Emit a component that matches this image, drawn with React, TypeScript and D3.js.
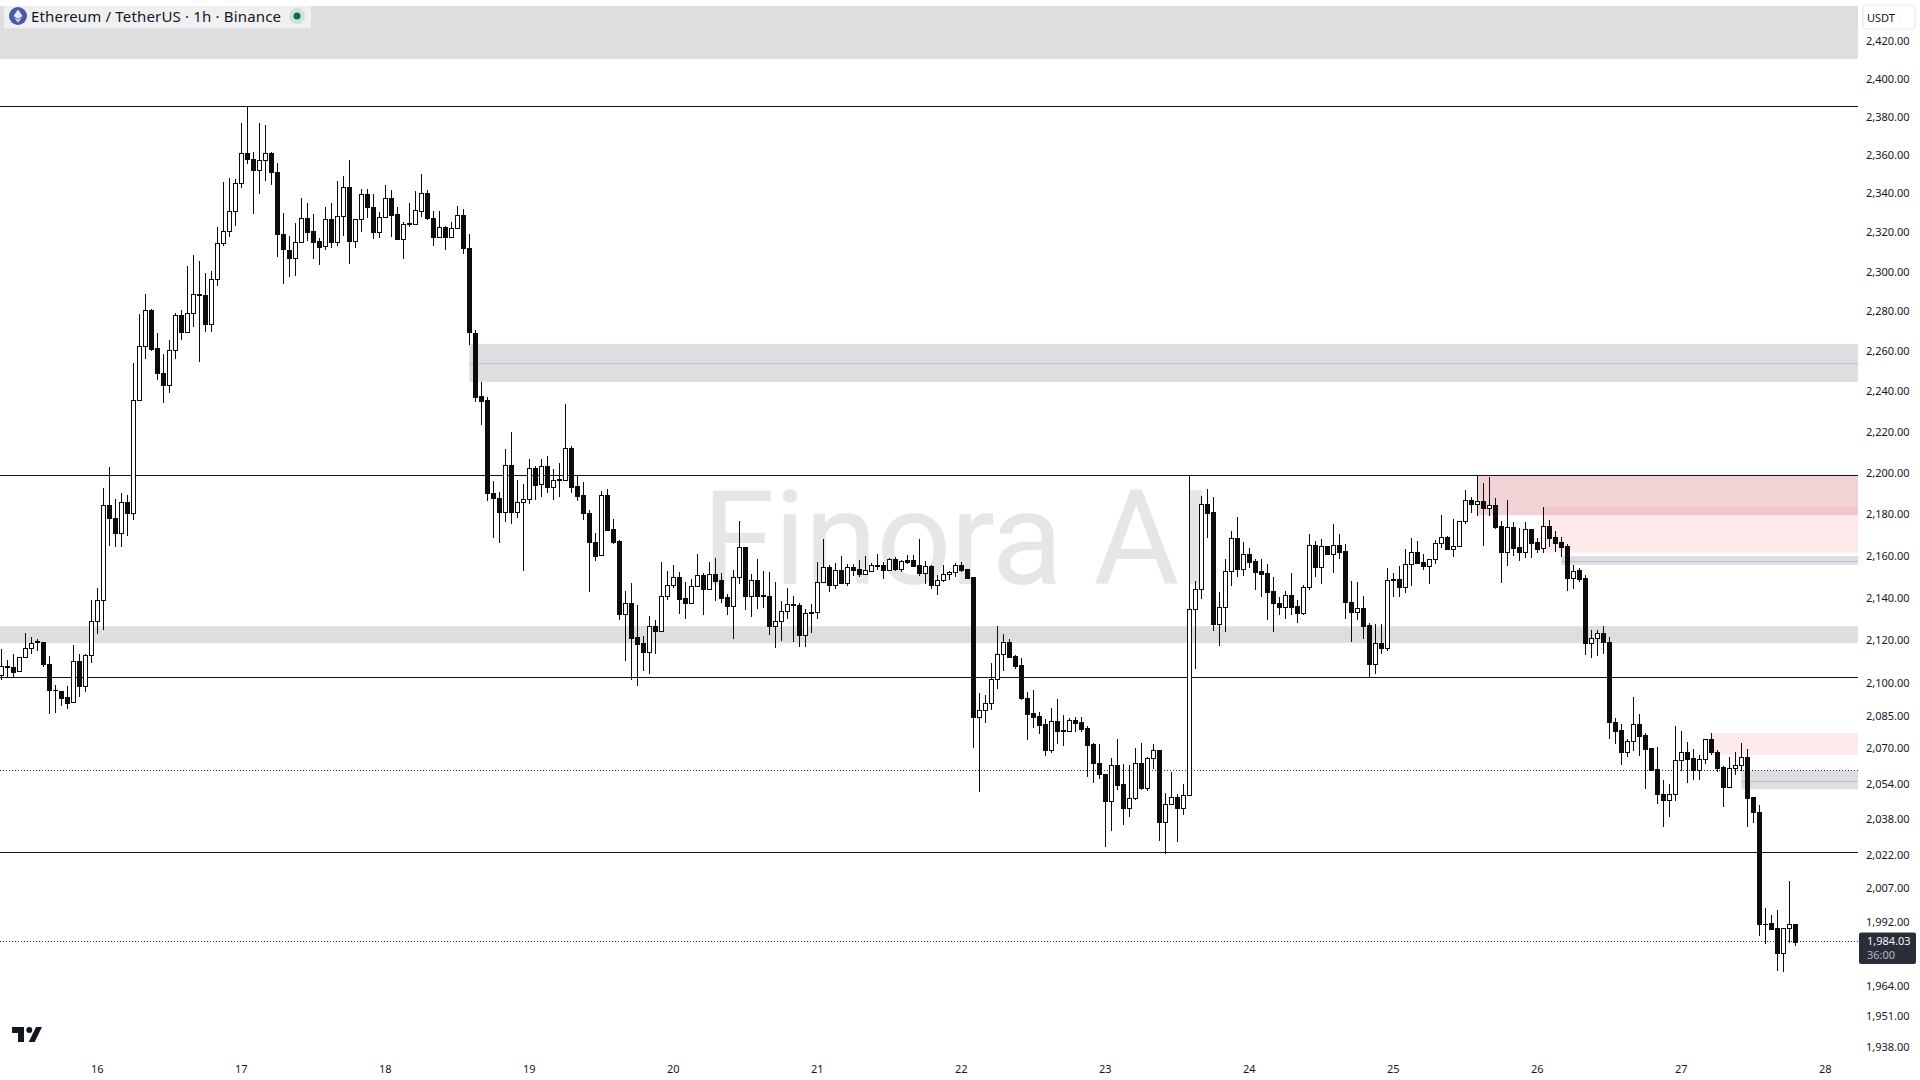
import React from "react";
import * as d3 from "d3";

const opens = [2103.6,2107.2,2107,2105.1,2111.9,2116,2119.2,2118.9,2108.7,2096.6,
2096.2,2093,2090.8,2110,2098.5,2112.6,2128.4,2138.4,2183.7,2177.5,
2170.2,2185.3,2179.8,2235.2,2262.2,2279.8,2261,2248.5,2242.8,2259.8,
2277.3,2269.2,2278.4,2287.9,2287.4,2273.2,2295.9,2313.8,2320.4,2330.3,
2344.7,2360.4,2357.2,2351.9,2356.8,2360.4,2350.4,2318.8,2310.6,2306.5,
2314.3,2326.8,2320,2314.9,2312.3,2326.2,2314.3,2327.7,2342.6,2315.2,
2326.2,2339.1,2332.3,2319.4,2327.2,2337.4,2328.8,2316.3,2324.2,2324,
2330.6,2339.6,2326.8,2317.2,2322,2316.9,2321.6,2328.3,2311.7,2268.4,
2237,2235.2,2189.7,2187.2,2180.3,2203.1,2180.3,2185.2,2186.7,2201.7,
2194,2202.6,2192.4,2196.1,2195.9,2211.5,2192.9,2188.6,2180,2165.9,
2160,2188.8,2172.4,2166.4,2131.7,2137,2120.9,2118.1,2114.3,2126.1,
2124.1,2140.3,2145.4,2149.3,2139.4,2136.9,2145,2150.2,2143.5,2150.7,
2148,2139.8,2135.9,2149.6,2163.5,2140.2,2147.9,2140.7,2140.3,2126.5,
2128.5,2133.2,2136.5,2136,2122.2,2132.6,2132.8,2146.9,2154,2145.4,
2152.6,2146.8,2154,2153,2151,2152.4,2154.7,2155.1,2152.9,2157.8,
2153.4,2157.3,2157.3,2155.1,2151.5,2154.6,2145.8,2147.9,2150.7,2151.7,
2154.9,2153.2,2149.4,2084.1,2087.1,2090.6,2101.4,2113,2118.6,2112.2,
2107.9,2092.6,2085.9,2084.5,2080.6,2069,2082,2077.9,2077.3,2082.5,
2081.5,2078.8,2071.6,2062.8,2058,2045.5,2061.9,2053.3,2042.7,2046.9,
2062.8,2051.7,2065.1,2068.8,2036.4,2044.2,2047.4,2042.7,2048.3,2134.2,
2143.6,2184.6,2180.3,2127.4,2135.1,2152.1,2167.8,2153.4,2160.6,2156.9,
2152.3,2151.2,2142.7,2137,2135.1,2140.8,2135.7,2132.6,2144.6,2164.9,
2154.3,2164,2160.6,2164.9,2161.6,2137.6,2133.1,2134.6,2126.6,2108.3,
2118.1,2116.1,2148,2148.5,2144.9,2155.4,2161.3,2156.4,2154.8,2157.8,
2165.4,2168.3,2162.9,2164,2176,2186.1,2184.5,2185.6,2182.6,2183.7,
2173.8,2161.4,2173.1,2163.5,2161.4,2172.2,2165.9,2163.4,2173.6,2168.3,
2165.9,2164,2149.1,2152.6,2148.8,2118.5,2120.8,2122.8,2119,2081.8,
2077.9,2067.7,2072.9,2080.6,2075.7,2069.7,2060.1,2048.8,2046.3,2048.6,
2064.2,2067.8,2065.1,2059.5,2064.6,2073.8,2068,2061,2052.2,2060.5,
2061.9,2065.5,2047.4,2040.6,1991,1991.2,1989,1978.3,1989,1990.7];

const closes = [2107.4,2107.6,2104.7,2111.9,2116,2118.3,2118.7,2108.7,2096.6,2096.4,
2092.8,2090.6,2110,2098.5,2112.6,2128.4,2138.4,2183.7,2177.6,2170.2,
2185.3,2179.8,2235.2,2262.2,2279.8,2260.6,2248.3,2242.8,2259.8,2277.3,
2269.2,2278.4,2288,2287.7,2273.2,2295.9,2313.8,2320.4,2330.3,2344.7,
2360.4,2357.2,2351.9,2356.8,2360.4,2350.4,2318.8,2310.8,2306.5,2314.4,
2326.8,2319.8,2314.7,2311.9,2326.2,2314.3,2327.7,2342.6,2315.2,2326.2,
2339.1,2332.3,2319.4,2327.2,2337.4,2328.6,2316.3,2323.7,2323.5,2330.8,
2339.6,2326.6,2317.2,2322,2316.9,2321.6,2328.3,2311.7,2268.8,2236.8,
2234.7,2189.5,2187.1,2180.3,2203.1,2180.3,2185.2,2186.7,2201.7,2193.8,
2202.6,2192.4,2196.2,2196.6,2211.5,2192.8,2188.4,2179.8,2165.9,2159.5,
2188.5,2171.9,2166.2,2131.7,2137,2120.8,2118,2114.3,2126.1,2124.1,
2140.3,2145.4,2149.3,2139.2,2136.9,2145,2150.2,2143.5,2150.7,2147.7,
2139.7,2135.9,2149.6,2163.5,2140.2,2147.9,2140.6,2140.4,2126.5,2128.5,
2133.2,2136.5,2136,2122.2,2132.3,2132.9,2146.9,2154,2145.4,2152.6,
2146.8,2154,2152.9,2151,2152.6,2154.9,2154.9,2152.9,2157.8,2153.3,
2156.9,2156.7,2154.8,2151.5,2154.5,2145.8,2147.9,2150.7,2151.7,2154.9,
2152.9,2149.1,2084.1,2087.1,2090.6,2101.4,2113,2118.6,2111.9,2107.7,
2092.5,2085.5,2084,2080.3,2068.9,2082,2077.7,2077.3,2082.5,2081.4,
2078.6,2071.3,2062.7,2057.7,2045.5,2061.9,2053.1,2042.7,2046.9,2062.8,
2051.7,2065.1,2068.8,2036.4,2044.2,2047.4,2042.7,2048.3,2134.2,2143.5,
2184.6,2180.2,2127.4,2135.1,2152.1,2167.8,2153.4,2160.6,2156.5,2152,
2151,2142.5,2136.9,2135,2140.8,2135.4,2132.6,2144.6,2164.9,2154.3,
2164,2160.5,2164.9,2161.4,2137.8,2133.1,2134.6,2126.4,2108.3,2118.1,
2116.1,2147.9,2148.4,2144.9,2155.4,2161.1,2156.2,2154.6,2157.8,2165.4,
2168.3,2162.9,2164,2176,2186.1,2184.5,2185.7,2182.6,2183.7,2173.3,
2161.4,2173.1,2163.4,2161.4,2172.2,2165.8,2162.9,2173.6,2168.2,2165.8,
2163.8,2149.1,2152.4,2148.7,2118.5,2120.8,2122.8,2118.8,2081.8,2077.7,
2067.7,2072.9,2080.6,2075.4,2069.5,2059.8,2048.6,2046.3,2048.6,2064.2,
2067.8,2064.9,2059.5,2064.6,2073.8,2067.7,2060.8,2052.2,2060.5,2061.9,
2065.5,2047.2,2040.5,1991,1990.8,1988.8,1978.3,1989,1990.6,1983.1];

const highs = [2115.3,2110.6,2113,2111.9,2122.9,2121,2120.2,2118.9,2112.1,2098.7,
2096.2,2098.3,2117.2,2113,2113.4,2138.6,2144.3,2192.2,2202.2,2186.9,
2189.8,2188.8,2253.3,2277.8,2288,2280.4,2268.6,2258.2,2265.1,2278.6,
2279.8,2302.5,2307.7,2304.6,2298.8,2299.6,2322.1,2345.5,2347.4,2347,
2376,2385,2361,2376.4,2375.1,2361,2355.1,2329.2,2317.5,2324.2,
2337.2,2334.7,2329,2316.5,2332.5,2334.5,2345.9,2348.7,2356.9,2326.2,
2341.7,2341.7,2339.1,2329.9,2343.9,2341.3,2332.5,2324.8,2334.7,2340.7,
2349.6,2341.3,2330.6,2330.6,2322.9,2324.8,2333,2331.6,2318.7,2270,
2244.1,2236.6,2195.5,2190.2,2211.1,2219.3,2196,2194.1,2206.3,2203,
2206.3,2207.7,2201.4,2204.3,2233.3,2212.5,2198.1,2195,2181.6,2170.5,
2190.8,2191.7,2177.2,2167,2142.8,2146.4,2136.2,2121.6,2131,2129.1,
2156.7,2152.4,2155.2,2151.8,2147.1,2148.5,2160.3,2151.2,2156.5,2158.4,
2151.4,2141.4,2152.6,2176.2,2163.5,2150.9,2158,2152.1,2152,2147.1,
2138.1,2144.2,2140.2,2137.2,2134.5,2136.7,2156.5,2167.5,2154.9,2156.2,
2159.4,2155.6,2155.6,2157.4,2159.4,2156.2,2160.6,2156.5,2158.7,2159,
2157.4,2159.8,2160,2167.5,2157,2154.9,2150.2,2154.9,2152.4,2156.2,
2156.5,2153.2,2149.4,2095.2,2094,2108.8,2126.5,2122.5,2120.2,2112.7,
2111.3,2095.4,2096.5,2086.3,2083.1,2088.2,2092.3,2084.8,2083.7,2084,
2083.9,2079.8,2072.2,2071.6,2058,2065.3,2073.9,2062.5,2062,2069.7,
2072.2,2065.5,2071.6,2068.9,2049.2,2058.9,2049,2053.4,2198.3,2147.4,
2188.2,2191.6,2187.6,2142.4,2158,2171.2,2178.1,2166,2163.2,2158.1,
2157.8,2155.6,2149.3,2139.8,2142.7,2151.3,2138.3,2145.7,2169.9,2166.7,
2167.5,2164,2174.7,2169.9,2165.1,2147.6,2147.1,2140.2,2127.9,2127.2,
2127.2,2153.5,2151.2,2154.8,2163,2167.8,2166.5,2160.6,2157.8,2167,
2179,2168.9,2177,2176.3,2191.1,2187.9,2198.2,2194.4,2197.3,2187.1,
2176,2186.3,2175.7,2172.8,2175.7,2172.2,2168,2183,2176.6,2171.4,
2168.3,2165.1,2155,2153.5,2150.2,2124.4,2124.4,2126.3,2120.9,2083.3,
2080.8,2073.8,2093,2085.3,2076.5,2069.7,2070.2,2055.2,2053.4,2079.8,
2077.7,2072.7,2069.2,2066.6,2073.8,2076.5,2068.9,2061.3,2065.5,2067.7,
2072.2,2069.2,2047.4,2043.9,1997.8,1994.9,1997.1,1989,2009.8,1990.7];

const lows = [2101.7,2102.5,2102.8,2105.1,2111.9,2113.8,2114.9,2107.7,2086,2086.2,
2089.6,2088.3,2090.8,2093.8,2096,2109.6,2122.9,2124.9,2164.7,2164.3,
2164.3,2169.6,2177,2235.2,2256.2,2260.2,2245.3,2234.3,2239.2,2255.8,
2265.5,2269.2,2272,2254.5,2269.6,2269.6,2292.6,2312.9,2317.5,2323.2,
2342.8,2355.1,2329.6,2339.8,2346.2,2344.5,2307.5,2293.8,2297.1,2297.9,
2314.3,2315.6,2306.4,2303.5,2311.2,2311.9,2313.2,2318.2,2303.9,2311.9,
2320.2,2327.3,2316.7,2317.1,2327.2,2317.8,2316.3,2306.4,2322.9,2324,
2328,2326.2,2313,2317.2,2311,2316.9,2321.6,2309,2263.2,2234.7,
2223.4,2186.4,2168.4,2166,2176,2175.3,2178.1,2152.9,2185,2186.9,
2188.3,2190.2,2186.9,2188.3,2195.9,2190.2,2186.4,2177.2,2142.7,2157.5,
2159.8,2171.9,2165.5,2129.8,2110.2,2101.7,2098.9,2105.7,2104.5,2113.8,
2124.1,2139.2,2144.9,2132.6,2130.2,2136.9,2145,2132,2143.5,2138.6,
2137.5,2131.7,2120.8,2146.4,2134.5,2131.2,2134.6,2135,2122.7,2116.6,
2119.8,2130.2,2119.4,2117,2117,2123.5,2130.2,2146.9,2143,2144,
2146.8,2145.5,2150.5,2149.9,2151,2152.1,2153,2148.8,2152.9,2152.9,
2152.4,2156.2,2154.8,2150.2,2146.4,2144.1,2141.4,2147.3,2148.7,2150.1,
2152.4,2149.1,2070.4,2050,2081.8,2087.6,2097.4,2105.7,2111.9,2106.8,
2092.1,2073.9,2079.5,2076.8,2066.7,2068.1,2072.2,2071.3,2077.3,2077.7,
2077.4,2056.8,2054.1,2055.9,2025.6,2032.4,2051,2035.5,2039,2046.4,
2051.3,2050.4,2060.4,2028.2,2022.4,2044.2,2027.8,2039.9,2048.3,2106.6,
2139.7,2168.6,2124.4,2117.5,2124.1,2145.4,2150.1,2150.2,2154.2,2143.5,
2140.2,2129.8,2124.1,2132.1,2130.2,2131.7,2128.3,2132,2143.8,2149.9,
2146.8,2160.5,2151.8,2158.6,2130.2,2119.4,2129.6,2120.5,2102.4,2104.5,
2113.6,2115.2,2140.2,2140.2,2142.5,2145.8,2156.2,2153.1,2146.8,2155.9,
2163.5,2162.9,2159.4,2164,2175,2180.5,2179,2164.6,2179,2172.8,
2147.2,2155.1,2160,2157.5,2158.9,2159,2161.3,2161.3,2164.2,2161.9,
2159.4,2143.3,2144.3,2147.7,2113.2,2112,2112.6,2113.8,2074.5,2072.2,
2062.4,2065.9,2069,2066.6,2051.6,2059.8,2044.7,2034.2,2039,2046.2,
2059.8,2054.3,2055.8,2055.8,2062.8,2067.1,2059.1,2043.2,2052.2,2057.9,
2059.5,2034.2,2036.3,1986,1982.6,1988.8,1970.7,1970.4,1983.1,1981.6];

const priceTicks = [2420,2400,2380,2360,2340,2320,2300,2280,2260,2240,2220,2200,2180,2160,2140,2120,2100,2085,2070,2054,2038,2022,2007,1992,1964,1951,1938];
const dayLabels = [16,17,18,19,20,21,22,23,24,25,26,27,28];
const dayStartIndex = 16;
const barsPerDay = 24;

// [startIndex (null = left edge), top price, bottom price]
const greyZones: [number | null, number, number][] = [
  [null, 2438.4, 2410.1],
  [78, 2263, 2244.1],
  [null, 2126.2, 2118.3],
  [260, 2159.4, 2155.2],
  [290, 2059.4, 2051],
];
const midLines: [number, number][] = [[78, 2253.5], [260, 2156.8], [290, 2054.8]];
const darkRedZones: [number, number, number][] = [[246, 2198.3, 2179]];
const lightRedZones: [number, number, number][] = [[257, 2183, 2161], [285, 2076.5, 2066.6]];
const solidLevels = [2385, 2198.3, 2102.3, 2022.6];
const dottedLevels = [2059.4, 1983.1];
const lastPriceText = "1,984.03";
const countdownText = "36:00";
const title = "Ethereum / TetherUS · 1h · Binance";
const watermark = "Finora AI";

const W = 1920, H = 1080, PLOT_R = 1858;
const fontFamily = "'Noto Sans', sans-serif";
const ink = "#131722";

const x = d3.scaleLinear().domain([0, 304]).range([1.33, 1825.33]);
const y = d3.scaleLog().domain([2420, 1938]).range([40.3, 1045.7]);
const fmt = d3.format(",.2f");

export default function App() {
  const zoneX = (s: number | null) => (s === null ? 0 : x(s));
  const bars = d3.range(opens.length);
  return (
    <svg width={W} height={H} viewBox={`0 0 ${W} ${H}`}
      style={{ position: "fixed", left: 0, top: 0, display: "block", background: "#fff" }}>
      <text x={702} y={584} fontFamily="Roboto, sans-serif" fontWeight={400} fontSize={132}
        textLength={512} lengthAdjust="spacing" fill="#e6e6e7">{watermark}</text>

      {greyZones.map(([s, t, b], i) => (
        <rect key={i} x={zoneX(s)} y={y(t)} width={PLOT_R - zoneX(s)} height={y(b) - y(t)}
          fill="#b4b6bb" fillOpacity={0.45} />
      ))}
      {darkRedZones.map(([s, t, b], i) => (
        <rect key={i} x={x(s)} y={y(t)} width={PLOT_R - x(s)} height={y(b) - y(t)}
          fill="#c8505c" fillOpacity={0.25} />
      ))}
      {lightRedZones.map(([s, t, b], i) => (
        <rect key={i} x={x(s)} y={y(t)} width={PLOT_R - x(s)} height={y(b) - y(t)}
          fill="#f77c80" fillOpacity={0.16} />
      ))}
      {midLines.map(([s, p], i) => (
        <line key={i} x1={x(s)} x2={PLOT_R} y1={Math.round(y(p)) + 0.5} y2={Math.round(y(p)) + 0.5}
          stroke="#cdb6dc" strokeWidth={1} />
      ))}
      {solidLevels.map((p, i) => (
        <line key={i} x1={0} x2={PLOT_R} y1={Math.round(y(p)) + 0.5} y2={Math.round(y(p)) + 0.5}
          stroke="#131313" strokeWidth={1} />
      ))}
      {dottedLevels.map((p, i) => (
        <line key={i} x1={0} x2={PLOT_R} y1={Math.floor(y(p)) + 0.5} y2={Math.floor(y(p)) + 0.5}
          stroke="#333" strokeWidth={1} strokeDasharray="1 2" />
      ))}

      <g shapeRendering="crispEdges">
        {bars.map((i) => {
          const cx = Math.floor(x(i));
          const up = closes[i] >= opens[i];
          const top = Math.round(y(Math.max(opens[i], closes[i])));
          const bot = Math.round(y(Math.min(opens[i], closes[i])));
          const hy = Math.round(y(highs[i]));
          const ly = Math.round(y(lows[i]));
          const h = Math.max(bot - top + 1, 1);
          return (
            <g key={i}>
              <rect x={cx} y={hy} width={1} height={Math.max(ly - hy + 1, 1)} fill="#0c0c0c" />
              <rect x={cx - 2} y={top} width={5} height={h} fill="#0c0c0c" />
              {up && h > 2 && <rect x={cx - 1} y={top + 1} width={3} height={h - 2} fill="#fff" />}
            </g>
          );
        })}
      </g>

      <rect x={PLOT_R} y={0} width={W - PLOT_R} height={H} fill="#fff" />
      <g fontFamily={fontFamily} fontSize={11} fill={ink}>
        {priceTicks.map((p) => (
          <text key={p} x={1866} y={y(p) + 0.5} dominantBaseline="central">{fmt(p)}</text>
        ))}
        {dayLabels.map((d, i) => (
          <text key={d} x={x(dayStartIndex + i * barsPerDay)} y={1068} textAnchor="middle" dominantBaseline="central">{d}</text>
        ))}
      </g>

      <rect x={1863} y={5} width={52} height={24} rx={3} fill="#fff" stroke="#e6e8ee" />
      <text x={1867} y={17} fontFamily={fontFamily} fontSize={11} fill={ink} dominantBaseline="central">USDT</text>

      <rect x={1859} y={932.5} width={57} height={31.5} rx={2} fill="#2a2e39" />
      <text x={1867} y={940} fontFamily={fontFamily} fontSize={11} fill="#f0f3fa" dominantBaseline="central">{lastPriceText}</text>
      <text x={1867} y={954} fontFamily={fontFamily} fontSize={11} fill="#b2b5be" dominantBaseline="central">{countdownText}</text>

      <rect x={4} y={6} width={307} height={22} fill="#f0f0f2" />
      <circle cx={18} cy={16} r={9} fill="#4a5aa6" />
      <path d="M18 9.5 L22.5 16 L18 18.8 L13.5 16 Z M18 19.8 L22 17.2 L18 22.5 L14 17.2 Z" fill="#e8ebf6" />
      <text x={31} y={16} fontFamily={fontFamily} fontSize={15} textLength={250} lengthAdjust="spacing" fill={ink} dominantBaseline="central">{title}</text>
      <circle cx={297} cy={16} r={8} fill="#cfe3dd" />
      <circle cx={297} cy={16} r={3.5} fill="#0b6b58" />

      <path d="M12 1027 H24 V1042 H18 V1033 H12 Z" fill="#131722" />
      <circle cx={29.3} cy={1030} r={3} fill="#131722" />
      <path d="M36 1027 H42 L34.7 1042 H28.7 Z" fill="#131722" />
    </svg>
  );
}
